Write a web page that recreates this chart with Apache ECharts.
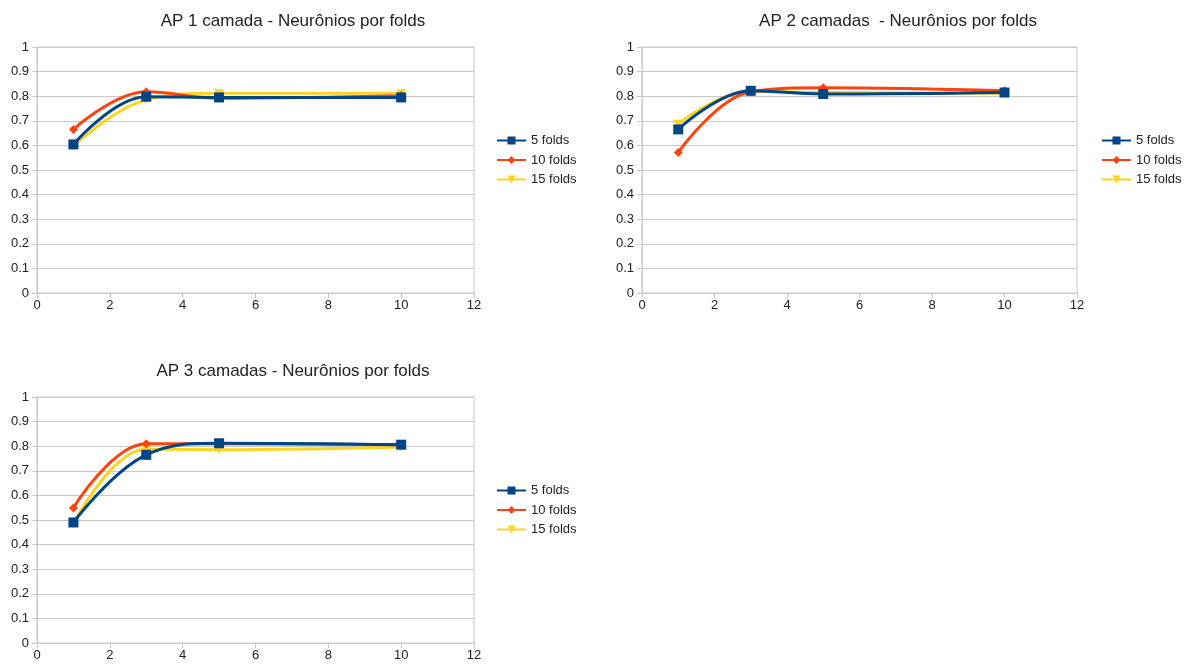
<!DOCTYPE html>
<html><head><meta charset="utf-8">
<script src="https://cdn.jsdelivr.net/npm/echarts@6/dist/echarts.min.js"></script>
<style>html,body{margin:0;padding:0;background:#fff}#c{width:1191px;height:669px}</style>
</head><body><div id="c"></div>
<script>
const xs = [1, 3, 5, 10];
const seriesNames = ['5 folds', '10 folds', '15 folds'];
const titles = ['AP 1 camada - Neurônios por folds', 'AP 2 camadas  - Neurônios por folds', 'AP 3 camadas - Neurônios por folds'];
// chart 1
const c1_5 = [0.604, 0.798, 0.795, 0.795];
const c1_10 = [0.665, 0.818, 0.792, 0.802];
const c1_15 = [0.597, 0.785, 0.812, 0.812];
// chart 2
const c2_5 = [0.665, 0.822, 0.809, 0.815];
const c2_10 = [0.571, 0.818, 0.834, 0.822];
const c2_15 = [0.688, 0.820, 0.815, 0.812];
// chart 3
const c3_5 = [0.490, 0.765, 0.812, 0.806];
const c3_10 = [0.549, 0.810, 0.810, 0.806];
const c3_15 = [0.484, 0.788, 0.786, 0.797];

const colors = ['#004586', '#ff420e', '#ffd320'];
const symbols = ['rect', 'diamond', 'path://M0,0 L10,0 L5,8 Z'];
const symSizes = [10, 9, [10, 8]];
const zs = [5, 4, 3];
const data = [[c1_5, c1_10, c1_15], [c2_5, c2_10, c2_15], [c3_5, c3_10, c3_15]];

const grids = [
  {left: 37, top: 47, width: 437, height: 246},
  {left: 642, top: 47, width: 435, height: 246},
  {left: 37, top: 397, width: 437, height: 246}
];
const titlePos = [{x: 288, y: 8}, {x: 893, y: 8}, {x: 288, y: 358}];
const legendPos = [{left: 496, top: 134}, {left: 1101, top: 134}, {left: 496, top: 484}];

const axisColor = '#c8c8c8';
const labelStyle = {color: '#222', fontSize: 13, fontFamily: 'Liberation Sans'};
const option = {
  animation: false,
  color: colors,
  title: titles.map((t, i) => ({
    text: t, left: titlePos[i].x, top: titlePos[i].y, textAlign: 'center',
    textStyle: {fontFamily: 'Liberation Sans', fontSize: 17, fontWeight: 'normal', color: '#222'}
  })),
  legend: legendPos.map((p, i) => ({
    data: seriesNames, left: p.left, top: p.top, orient: 'vertical', padding: 0,
    itemWidth: 29, itemHeight: 10, itemGap: 6.5,
    textStyle: {fontFamily: 'Liberation Sans', fontSize: 13, color: '#222', padding: [0, 0, 0, 0]}
  })),
  grid: grids.map(g => Object.assign({show: true, borderColor: axisColor, borderWidth: 1, backgroundColor: 'transparent'}, g)),
  xAxis: grids.map((g, i) => ({
    type: 'value', gridIndex: i, min: 0, max: 12, interval: 2,
    axisLine: {show: true, lineStyle: {color: axisColor}},
    axisTick: {show: true, length: 5, lineStyle: {color: axisColor}},
    splitLine: {show: false},
    axisLabel: Object.assign({margin: 6}, labelStyle)
  })),
  yAxis: grids.map((g, i) => ({
    type: 'value', gridIndex: i, min: 0, max: 1, interval: 0.1,
    axisLine: {show: true, lineStyle: {color: axisColor}},
    axisTick: {show: true, length: 5, lineStyle: {color: axisColor}},
    splitLine: {show: true, lineStyle: {color: axisColor}},
    axisLabel: Object.assign({margin: 8, formatter: v => String(Math.round(v * 10) / 10)}, labelStyle)
  })),
  series: []
};
for (let g = 0; g < 3; g++) {
  for (let s = 0; s < 3; s++) {
    option.series.push({
      type: 'line', name: seriesNames[s], xAxisIndex: g, yAxisIndex: g,
      data: xs.map((x, k) => [x, data[g][s][k]]),
      smooth: 0.4, z: zs[s],
      symbol: symbols[s], symbolSize: symSizes[s], showAllSymbol: true,
      lineStyle: {width: 3, color: colors[s]},
      itemStyle: {color: colors[s]}
    });
  }
}
const chart = echarts.init(document.getElementById('c'), null, {renderer: 'canvas'});
chart.setOption(option);
</script>
</body></html>
